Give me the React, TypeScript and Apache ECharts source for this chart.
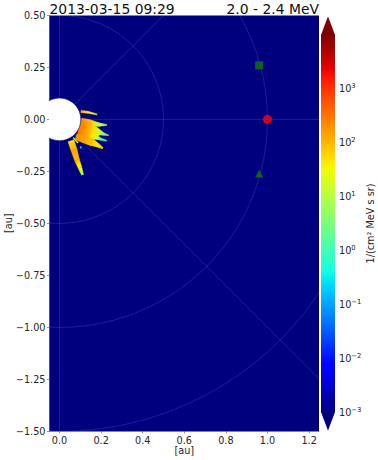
import React, { useEffect, useRef } from "react";
import * as echarts from "echarts";

// Plumes: [x au, y au, width au, log10 flux]
const plumeTop = [[0.103, 0.038, 0.012, 2.2], [0.137, 0.034, 0.01, 1.6], [0.18, 0.024, 0.005, 1.3]];
const plumeBase = [[0.09, -0.05, 0.09, 2.5], [0.13, -0.055, 0.09, 2.2], [0.16, -0.065, 0.065, 1.7], [0.188, -0.08, 0.03, 1.2]];
const plumeB = [[0.103, -0.012, 0.038, 2.4], [0.147, -0.019, 0.034, 1.9], [0.185, -0.025, 0.019, 1.2], [0.228, -0.027, 0.004, 0.5]];
const plumeC = [[0.099, -0.041, 0.05, 2.6], [0.137, -0.046, 0.05, 2.2], [0.175, -0.055, 0.034, 1.3], [0.209, -0.07, 0.014, 0.7], [0.236, -0.077, 0.004, 0.3]];
const plumeD = [[0.094, -0.07, 0.043, 2.4], [0.132, -0.075, 0.043, 2.0], [0.171, -0.084, 0.024, 1.2], [0.2, -0.096, 0.01, 0.3], [0.226, -0.103, 0.005, -0.1]];
const plumeE = [[0.079, -0.084, 0.029, 2.3], [0.118, -0.094, 0.038, 2.2], [0.156, -0.111, 0.034, 1.9], [0.185, -0.125, 0.019, 1.6], [0.208, -0.139, 0.008, 2.0]];
const plumeF = [[0.055, -0.103, 0.03, 1.7], [0.07, -0.147, 0.03, 2.1], [0.084, -0.195, 0.024, 2.0], [0.099, -0.233, 0.018, 1.5], [0.111, -0.267, 0.01, 0.6]];
const plumeG = [[0.067, -0.089, 0.006, 1.4], [0.089, -0.113, 0.005, 1.0]];
const plumeH = [[0.102, -0.131, 0.005, -0.3], [0.103, -0.139, 0.005, -0.3]];
const plumes = [plumeD, plumeB, plumeC, plumeBase, plumeG, plumeH, plumeE, plumeF, plumeTop];

const circleRadii = [0.5, 1.0, 1.5];
const spokeAngles = [0, 45, 90, 270, 315];
const sunRadius = [0.1025];
const squareBody = [[0.96, 0.26]];
const earthBody = [[1.0, 0.0]];
const triangleBody = [[0.96, -0.26]];
const xTicks = [0, 0.2, 0.4, 0.6, 0.8, 1.0, 1.2];
const cbExponents = [-3, -2, -1, 0, 1, 2, 3];
const LOG_MIN = -3;
const LOG_MAX = 4;
const FONT = "DejaVu Sans";
const TEXT = "#262626";

function ramp(t: number, pts: number[][]) {
  for (let i = 1; i < pts.length; i++) {
    if (t <= pts[i][0]) {
      const [a, va] = pts[i - 1];
      const [b, vb] = pts[i];
      return va + ((t - a) / (b - a || 1)) * (vb - va);
    }
  }
  return pts[pts.length - 1][1];
}
function jet(t: number) {
  const c = Math.max(0, Math.min(1, t));
  const r = ramp(c, [[0, 0], [0.35, 0], [0.66, 1], [0.89, 1], [1, 0.5]]);
  const g = ramp(c, [[0, 0], [0.125, 0], [0.375, 1], [0.64, 1], [0.91, 0], [1, 0]]);
  const b = ramp(c, [[0, 0.5], [0.11, 1], [0.34, 1], [0.65, 0], [1, 0]]);
  return `rgb(${Math.round(r * 255)},${Math.round(g * 255)},${Math.round(b * 255)})`;
}
const fluxColor = (v: number) => jet((v - LOG_MIN) / (LOG_MAX - LOG_MIN));
const ramps = Array.from({ length: 57 }, (_, i) => ({ offset: i / 56, color: jet(1 - i / 56) }));

const plumeSegments: number[][] = [];
plumes.forEach((p) => {
  for (let i = 0; i + 1 < p.length; i++) plumeSegments.push([...p[i], ...p[i + 1]]);
});

export default function App() {
  const ref = useRef<HTMLDivElement>(null);
  useEffect(() => {
    document.body.style.margin = "0";
    const chart = echarts.init(ref.current!, undefined, { renderer: "svg" });
    const spokeStyle = { stroke: "rgba(255,255,255,0.2)", lineWidth: 0.6, fill: "none" };
    chart.setOption({
      animation: false,
      backgroundColor: "#fff",
      textStyle: { fontFamily: FONT },
      title: [
        { text: "2013-03-15 09:29", left: 44.5, top: -3, textStyle: { fontFamily: FONT, fontSize: 13.9, fontWeight: "normal", color: "#111" } },
        { text: "2.0 - 2.4 MeV", right: 54, top: -3, textStyle: { fontFamily: FONT, fontSize: 13.9, fontWeight: "normal", color: "#111" } },
      ],
      grid: [
        { left: 49.5, top: 15.5, width: 269.5, height: 415.5, show: true, backgroundColor: "#00007f", borderWidth: 0, outerBoundsMode: "none", containLabel: false },
        { left: 321, top: 35, width: 14, height: 377, show: false, outerBoundsMode: "none", containLabel: false },
      ],
      xAxis: [
        {
          gridIndex: 0, type: "value", min: -0.048, max: 1.2476,
          name: "[au]", nameLocation: "middle", nameGap: 14, nameMoveOverlap: false,
          nameTextStyle: { fontFamily: FONT, fontSize: 9.7, color: TEXT },
          axisLine: { onZero: false, lineStyle: { color: "#333", width: 0.6 } },
          axisTick: { customValues: xTicks, length: 2.5, lineStyle: { color: "#555", width: 0.6 } },
          axisLabel: { customValues: xTicks, margin: 4, fontFamily: FONT, fontSize: 9.7, color: TEXT, formatter: (v: number) => v.toFixed(1) },
          splitLine: { show: false },
        },
        { gridIndex: 1, type: "value", min: 0, max: 1, show: false },
      ],
      yAxis: [
        {
          gridIndex: 0, type: "value", min: -1.5, max: 0.5, interval: 0.25,
          name: "[au]", nameLocation: "middle", nameGap: 36, nameMoveOverlap: false,
          nameTextStyle: { fontFamily: FONT, fontSize: 9.7, color: TEXT },
          axisLine: { onZero: false, lineStyle: { color: "#333", width: 0.6 } },
          axisTick: { length: 2.5, lineStyle: { color: "#555", width: 0.6 } },
          axisLabel: { margin: 4, fontFamily: FONT, fontSize: 9.7, color: TEXT, formatter: (v: number) => v.toFixed(2).replace("-", "\u2212") },
          splitLine: { show: false },
        },
        {
          gridIndex: 1, type: "value", min: LOG_MIN, max: LOG_MAX, position: "right",
          name: "1/(cm\u00B2 MeV s sr)", nameLocation: "middle", nameGap: 30, nameRotate: 90, nameMoveOverlap: false,
          nameTextStyle: { fontFamily: FONT, fontSize: 9.7, color: TEXT },
          axisLine: { show: false },
          axisTick: { customValues: cbExponents, length: 2.5, lineStyle: { color: "#555", width: 0.6 } },
          axisLabel: {
            customValues: cbExponents, margin: 4, color: TEXT,
            formatter: (v: number) => `{b|10}{s|${String(v).replace("-", "\u2212")}}`,
            rich: {
              b: { fontFamily: FONT, fontSize: 9.7, color: TEXT },
              s: { fontFamily: FONT, fontSize: 6.8, color: TEXT, verticalAlign: "top", padding: [0, 0, 5, 0] },
            },
          },
          splitLine: { show: false },
        },
      ],
      series: [
        {
          type: "custom", xAxisIndex: 1, yAxisIndex: 1, silent: true, clip: false,
          data: [[LOG_MIN, LOG_MAX]],
          renderItem: (_p: any, api: any) => {
            const x0 = api.coord([0, LOG_MAX]);
            const x1 = api.coord([1, LOG_MIN]);
            const tip = (x1[1] - x0[1]) * 0.05;
            const mid = (x0[0] + x1[0]) / 2;
            return {
              type: "group",
              children: [
                { type: "rect", shape: { x: x0[0], y: x0[1], width: x1[0] - x0[0], height: x1[1] - x0[1] },
                  style: { fill: new echarts.graphic.LinearGradient(0, 0, 0, 1, ramps) } },
                { type: "polygon", shape: { points: [[x0[0], x0[1]], [x1[0], x0[1]], [mid, x0[1] - tip]] }, style: { fill: "#7f0000" } },
                { type: "polygon", shape: { points: [[x0[0], x1[1]], [x1[0], x1[1]], [mid, x1[1] + tip]] }, style: { fill: "#00007f" } },
              ],
            };
          },
        },
        {
          type: "custom", xAxisIndex: 0, yAxisIndex: 0, silent: true, clip: true,
          data: plumeSegments,
          renderItem: (_p: any, api: any) => {
            const [x0, y0, w0, v0, x1, y1, w1, v1] = [0, 1, 2, 3, 4, 5, 6, 7].map((d) => api.value(d));
            const a = api.coord([x0, y0]);
            const b = api.coord([x1, y1]);
            const hw0 = api.size([w0, 0])[0] / 2;
            const hw1 = api.size([w1, 0])[0] / 2;
            const len = Math.hypot(b[0] - a[0], b[1] - a[1]) || 1;
            const nx = -(b[1] - a[1]) / len;
            const ny = (b[0] - a[0]) / len;
            const fill = new echarts.graphic.LinearGradient(a[0], a[1], b[0], b[1],
              [{ offset: 0, color: fluxColor(v0) }, { offset: 1, color: fluxColor(v1) }], true);
            return {
              type: "polygon",
              shape: { points: [
                [a[0] + nx * hw0, a[1] + ny * hw0], [b[0] + nx * hw1, b[1] + ny * hw1],
                [b[0] - nx * hw1, b[1] - ny * hw1], [a[0] - nx * hw0, a[1] - ny * hw0],
              ] },
              style: { fill, stroke: fill, lineWidth: 0.4 },
            };
          },
        },
        {
          type: "custom", xAxisIndex: 0, yAxisIndex: 0, silent: true, clip: true,
          data: circleRadii.map((r) => [r]),
          renderItem: (_p: any, api: any) => {
            const c = api.coord([0, 0]);
            const r = api.size([api.value(0), 0])[0];
            return { type: "arc", shape: { cx: c[0], cy: c[1], r, startAngle: 0, endAngle: Math.PI * 2 }, style: spokeStyle };
          },
        },
        {
          type: "custom", xAxisIndex: 0, yAxisIndex: 0, silent: true, clip: true,
          data: spokeAngles.map((d) => [d]),
          renderItem: (_p: any, api: any) => {
            const t = (api.value(0) * Math.PI) / 180;
            const a = api.coord([0, 0]);
            const b = api.coord([3 * Math.cos(t), 3 * Math.sin(t)]);
            return { type: "line", shape: { x1: a[0], y1: a[1], x2: b[0], y2: b[1] }, style: spokeStyle };
          },
        },
        {
          type: "custom", xAxisIndex: 0, yAxisIndex: 0, silent: true, clip: true,
          data: sunRadius.map((r) => [r]),
          renderItem: (_p: any, api: any) => {
            const c = api.coord([0, 0]);
            const r = api.size([api.value(0), 0])[0];
            return { type: "circle", shape: { cx: c[0], cy: c[1], r }, style: { fill: "#fff", stroke: "#00007f", lineWidth: 0.6 } };
          },
        },
        { type: "scatter", xAxisIndex: 0, yAxisIndex: 0, silent: true, z: 5, data: squareBody, symbol: "rect", symbolSize: 8, itemStyle: { color: "#0b7a0b" } },
        { type: "scatter", xAxisIndex: 0, yAxisIndex: 0, silent: true, z: 5, data: triangleBody, symbol: "triangle", symbolSize: 8, itemStyle: { color: "#0b7a0b" } },
        { type: "scatter", xAxisIndex: 0, yAxisIndex: 0, silent: true, z: 5, data: earthBody, symbol: "circle", symbolSize: 9, itemStyle: { color: "#ff0000" } },
      ],
    });
    return () => chart.dispose();
  }, []);
  return <div ref={ref} style={{ width: 378, height: 460 }} />;
}
